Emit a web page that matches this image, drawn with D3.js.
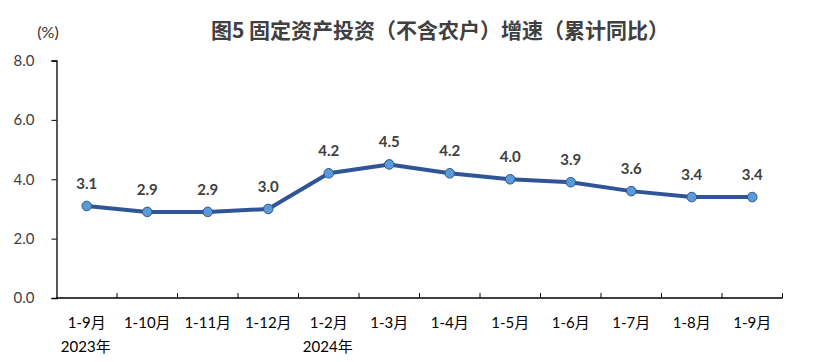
<!DOCTYPE html>
<html>
<head>
<meta charset="utf-8">
<script src="https://cdn.jsdelivr.net/npm/d3@7"></script>
<style>
body { margin: 0; background: #fff; }
svg text { font-family: Lato, "Noto Sans CJK SC", sans-serif; }
.title { font-family: "Noto Sans CJK SC", sans-serif; font-weight: bold; fill: #404040; }
</style>
</head>
<body>
<svg id="chart" width="823" height="362"></svg>
<script>
// data
var months = ["1-9月", "1-10月", "1-11月", "1-12月", "1-2月", "1-3月", "1-4月", "1-5月", "1-6月", "1-7月", "1-8月", "1-9月"];
var years = ["2023年", "", "", "", "2024年", "", "", "", "", "", "", ""];
var growth = [3.1, 2.9, 2.9, 3.0, 4.2, 4.5, 4.2, 4.0, 3.9, 3.6, 3.4, 3.4];
var yTicks = [0, 2, 4, 6, 8];

var svg = d3.select("#chart");
var plotL = 56.5, plotR = 782.5, plotT = 60.5, plotB = 298;

var x = d3.scaleBand().domain(d3.range(months.length)).range([plotL, plotR]);
var y = d3.scaleLinear().domain([0, 8]).range([plotB, plotT]);

// title
svg.append("text").attr("class", "title")
  .attr("x", 440).attr("y", 38).attr("text-anchor", "middle")
  .attr("font-size", 21).text("图5 固定资产投资（不含农户）增速（累计同比）");
svg.append("text").attr("x", 48).attr("y", 38).attr("text-anchor", "middle")
  .attr("font-size", 16).attr("fill", "#333").text("(%)");

// y axis
var yAxis = svg.append("g").attr("transform", "translate(" + plotL + ",0)")
  .call(d3.axisLeft(y).tickValues(yTicks).tickFormat(d3.format(".1f")).tickSize(5).tickPadding(17));
yAxis.select(".domain").attr("stroke", "#000").attr("stroke-width", 1.3);
yAxis.selectAll(".tick line").attr("stroke", "#000");
yAxis.selectAll(".tick text").attr("font-size", 15).attr("fill", "#404040")
  .style("font-family", "Lato, sans-serif");

// x axis with ticks between categories
var xg = svg.append("g");
xg.append("line").attr("x1", plotL).attr("x2", plotR).attr("y1", plotB).attr("y2", plotB)
  .attr("stroke", "#000").attr("stroke-width", 1.3);
xg.selectAll("line.tk").data(d3.range(1, months.length + 1)).join("line")
  .attr("class", "tk")
  .attr("x1", d => plotL + d * x.step()).attr("x2", d => plotL + d * x.step())
  .attr("y1", plotB).attr("y2", plotB - 5).attr("stroke", "#000");
xg.selectAll("text.m").data(months).join("text").attr("class", "m")
  .attr("x", (d, i) => x(i) + x.bandwidth() / 2).attr("y", 328)
  .attr("text-anchor", "middle").attr("font-size", 15).attr("fill", "#000").text(d => d);
xg.selectAll("text.yr").data(years).join("text").attr("class", "yr")
  .attr("x", (d, i) => x(i) + x.bandwidth() / 2 - 1).attr("y", 352)
  .attr("text-anchor", "middle").attr("font-size", 15).attr("fill", "#000").text(d => d);

// line
var cx = (d, i) => x(i) + x.bandwidth() / 2;
svg.append("path").datum(growth)
  .attr("fill", "none").attr("stroke", "#2F5597").attr("stroke-width", 4)
  .attr("stroke-linejoin", "round")
  .attr("d", d3.line().x(cx).y(d => y(d)));

svg.selectAll("circle.pt").data(growth).join("circle").attr("class", "pt")
  .attr("cx", cx).attr("cy", d => y(d)).attr("r", 4.8)
  .attr("fill", "#5B9BD5").attr("stroke", "#2F5597").attr("stroke-width", 1);

svg.selectAll("text.lbl").data(growth).join("text").attr("class", "lbl")
  .attr("x", cx).attr("y", d => y(d) - 17)
  .attr("text-anchor", "middle").attr("font-size", 15).attr("font-weight", "bold")
  .attr("fill", "#404040").text(d => d.toFixed(1));
</script>
</body>
</html>
